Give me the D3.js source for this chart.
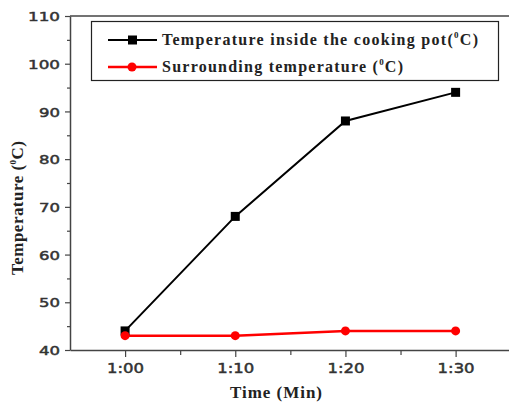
<!DOCTYPE html>
<html>
<head>
<meta charset="utf-8">
<script src="https://cdn.jsdelivr.net/npm/d3@7"></script>
<style>
  body { margin: 0; background: #fff; }
  svg { display: block; }
</style>
</head>
<body>
<div id="chart"></div>
<script>
// time in minutes (1:00 = 60)
const times = [60, 70, 80, 90];
const potTemp = [44, 68, 88, 94];
const surroundTemp = [43, 43, 44, 44];
const yTicks = [40, 50, 60, 70, 80, 90, 100, 110];
const xTicks = [60, 70, 80, 90];
const seriesNames = ['Temperature inside the cooking pot(', 'Surrounding temperature ('];

const width = 509, height = 406;
const plotLeft = 70, plotTop = 16, plotBottom = 350;

const x = d3.scaleLinear().domain([55, 95]).range([plotLeft, 510.7]);
const y = d3.scaleLinear().domain([40, 110]).range([plotBottom, plotTop]);

const svg = d3.select('#chart').append('svg')
  .attr('width', width)
  .attr('height', height);

const axisColor = '#444';

// top frame line
svg.append('line')
  .attr('x1', plotLeft).attr('x2', width)
  .attr('y1', plotTop).attr('y2', plotTop)
  .attr('stroke', axisColor).attr('stroke-width', 1.5);

// minor ticks
svg.append('g')
  .attr('transform', `translate(${plotLeft},0)`)
  .call(d3.axisLeft(y).tickValues(d3.range(45, 110, 10)).tickSize(3).tickFormat(''))
  .call(g => g.select('.domain').remove())
  .selectAll('line').attr('stroke', axisColor).attr('stroke-width', 1.2);

svg.append('g')
  .attr('transform', `translate(0,${plotBottom})`)
  .call(d3.axisBottom(x).tickValues([65, 75, 85]).tickSize(5).tickFormat(''))
  .call(g => g.select('.domain').remove())
  .selectAll('line').attr('stroke', axisColor).attr('stroke-width', 1.2);

// y axis
const yAxis = svg.append('g')
  .attr('transform', `translate(${plotLeft},0)`)
  .call(d3.axisLeft(y).tickValues(yTicks).tickSize(5).tickPadding(5).tickSizeOuter(0));
yAxis.select('.domain').attr('stroke', axisColor).attr('stroke-width', 1.5);
yAxis.selectAll('line').attr('stroke', axisColor).attr('stroke-width', 1.2);
yAxis.selectAll('text')
  .attr('font-family', 'DejaVu Sans')
  .attr('font-size', 13)
  .attr('fill', '#333')
  .attr('stroke', '#333')
  .attr('stroke-width', 0.5)
  .attr('dy', '0.36em')
  .attr('textLength', d => d >= 100 ? 32 : 21)
  .attr('lengthAdjust', 'spacingAndGlyphs');

// x axis
const xAxis = svg.append('g')
  .attr('transform', `translate(0,${plotBottom})`)
  .call(d3.axisBottom(x).tickValues(xTicks).tickSize(7).tickPadding(6).tickSizeOuter(0)
    .tickFormat(m => Math.floor(m / 60) + ':' + String(m % 60).padStart(2, '0')));
xAxis.select('.domain').attr('stroke', axisColor).attr('stroke-width', 1.5);
xAxis.selectAll('line').attr('stroke', axisColor).attr('stroke-width', 1.2);
xAxis.selectAll('text')
  .attr('font-family', 'DejaVu Sans')
  .attr('font-size', 14)
  .attr('fill', '#333')
  .attr('stroke', '#333')
  .attr('stroke-width', 0.5)
  .attr('textLength', 37)
  .attr('lengthAdjust', 'spacingAndGlyphs');

// axis titles
svg.append('text')
  .attr('x', 276).attr('y', 398)
  .attr('text-anchor', 'middle')
  .attr('font-family', 'Liberation Serif')
  .attr('font-weight', 'bold')
  .attr('font-size', 17)
  .attr('fill', '#222')
  .attr('textLength', 92)
  .attr('lengthAdjust', 'spacing')
  .text('Time (Min)');

const yTitle = svg.append('text')
  .attr('transform', 'translate(23,208) rotate(-90)')
  .attr('text-anchor', 'middle')
  .attr('font-family', 'Liberation Serif')
  .attr('font-weight', 'bold')
  .attr('font-size', 17)
  .attr('fill', '#222')
  .attr('textLength', 134)
  .attr('lengthAdjust', 'spacing');
yTitle.append('tspan').text('Temperature (');
yTitle.append('tspan').attr('font-size', 9).attr('dy', -7).text('0');
yTitle.append('tspan').attr('dy', 7).text('C)');

// lines
const line = d3.line().x((d, i) => x(times[i])).y(d => y(d));

svg.append('path')
  .datum(potTemp)
  .attr('d', line)
  .attr('fill', 'none')
  .attr('stroke', '#000')
  .attr('stroke-width', 2);

svg.append('path')
  .datum(surroundTemp)
  .attr('d', line)
  .attr('fill', 'none')
  .attr('stroke', '#ff0000')
  .attr('stroke-width', 2.5);

svg.selectAll('.sq')
  .data(potTemp)
  .enter()
  .append('rect')
  .attr('class', 'sq')
  .attr('x', (d, i) => x(times[i]) - 4.5)
  .attr('y', d => y(d) - 4.5)
  .attr('width', 9).attr('height', 9)
  .attr('fill', '#000');

svg.selectAll('.dot')
  .data(surroundTemp)
  .enter()
  .append('circle')
  .attr('class', 'dot')
  .attr('cx', (d, i) => x(times[i]))
  .attr('cy', d => y(d))
  .attr('r', 4.5)
  .attr('fill', '#ff0000');

// legend
const legend = svg.append('g').attr('id', 'legend');
legend.append('rect')
  .attr('x', 91.5).attr('y', 21.5)
  .attr('width', 407).attr('height', 59)
  .attr('fill', '#fff')
  .attr('stroke', '#222').attr('stroke-width', 1.2);

const legColors = ['#000', '#ff0000'];
const legLens = [316, 241];
seriesNames.forEach((name, i) => {
  const ly = 40 + i * 27;
  legend.append('line')
    .attr('x1', 108).attr('x2', 157)
    .attr('y1', ly).attr('y2', ly)
    .attr('stroke', legColors[i]).attr('stroke-width', i ? 2.5 : 2);
  if (i == 0) {
    legend.append('rect')
      .attr('x', 128).attr('y', ly - 4.5)
      .attr('width', 9).attr('height', 9)
      .attr('fill', '#000');
  } else {
    legend.append('circle')
      .attr('cx', 132).attr('cy', ly).attr('r', 4.5)
      .attr('fill', '#ff0000');
  }
  const t = legend.append('text')
    .attr('x', 162).attr('y', ly + 5)
    .attr('font-family', 'Liberation Serif')
    .attr('font-weight', 'bold')
    .attr('font-size', 16)
    .attr('fill', '#222')
    .attr('textLength', legLens[i])
    .attr('lengthAdjust', 'spacing');
  t.append('tspan').text(name);
  t.append('tspan').attr('font-size', 9).attr('dy', -7).text('0');
  t.append('tspan').attr('dy', 7).text('C)');
});
</script>
</body>
</html>
